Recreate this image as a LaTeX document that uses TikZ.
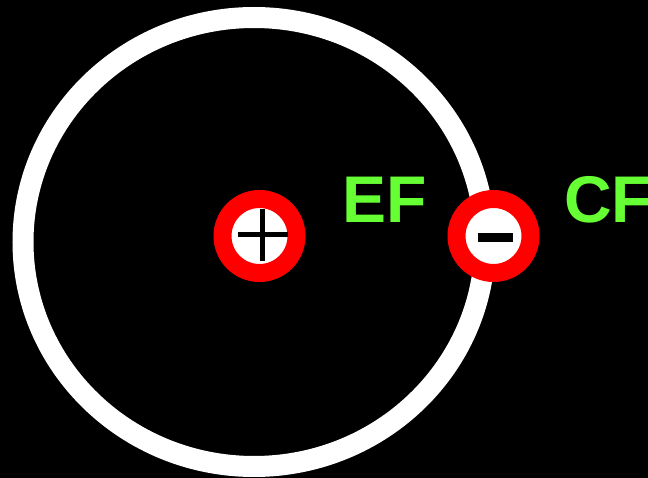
\documentclass[tikz,border=0pt]{standalone}
\usepackage{fontspec}
\setmainfont{Liberation Sans}
\definecolor{lbl}{RGB}{102,255,51}
\definecolor{chg}{RGB}{255,0,0}
\tikzset{
  charge/.style={circle, fill=white, draw=chg, line width=18pt, minimum size=74pt, inner sep=0pt},
  bar/.style={fill=black, draw=none},
  lbltext/.style={text=lbl, font=\bfseries\fontsize{66}{70}\selectfont, inner sep=0pt, anchor=base west}
}
\begin{document}
\begin{tikzpicture}[x=1pt,y=-1pt]
  \fill[black] (0,0) rectangle (648,478);
  \useasboundingbox (0,0) rectangle (648,478);
  \draw[white, line width=21pt] (254,242) ellipse [x radius=231, y radius=224.5];
  \node[charge] (pos) at (259.5,236) {};
  \node[charge] (neg) at (493.5,236) {};
  \fill[bar] (238,232.5) rectangle (288,237.5);
  \fill[bar] (260,209) rectangle (265,261);
  \fill[bar] (478,233) rectangle (513,242);
  \node[lbltext] (ef) at (342,223) {EF};
  \node[lbltext] (cf) at (564,223) {CF};
\end{tikzpicture}
\end{document}
